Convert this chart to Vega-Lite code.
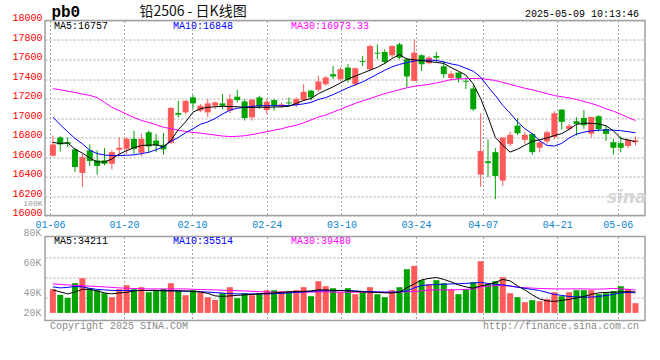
{
  "$schema": "https://vega.github.io/schema/vega-lite/v6.json",
  "background": "white",
  "padding": {"left": 11, "top": 2.5, "right": 8, "bottom": 20},
  "bounds": "flush",
  "spacing": 21,
  "config": {
    "view": {"stroke": "#a0a0a0", "strokeWidth": 1.5},
    "axis": {"labelFont": "Liberation Mono", "labelFontSize": 10, "ticks": false, "domain": false, "labelOverlap": false, "tickCount": 100}
  },
  "datasets": {
    "k": [
      {"d":"01-06","i":0,"o":16613,"h":16820,"l":16606,"c":16729,"v":43700,"m5":16750,"m10":17010,"m30":17300,"vm5":43000,"vm10":46000,"vm30":49000},
      {"d":"01-07","i":1,"o":16800,"h":16814,"l":16657,"c":16729,"v":38000,"m5":16738,"m10":16930,"m30":17290,"vm5":41000,"vm10":45000,"vm30":48500},
      {"d":"01-08","i":2,"o":16752,"h":16803,"l":16701,"c":16735,"v":35000,"m5":16745,"m10":16860,"m30":17275,"vm5":39000,"vm10":45500,"vm30":48000},
      {"d":"01-09","i":3,"o":16678,"h":16691,"l":16446,"c":16497,"v":49700,"m5":16680,"m10":16790,"m30":17262,"vm5":41000,"vm10":46500,"vm30":47500},
      {"d":"01-10","i":4,"o":16436,"h":16633,"l":16293,"c":16599,"v":54700,"m5":16640,"m10":16735,"m30":17245,"vm5":43500,"vm10":46000,"vm30":47200},
      {"d":"01-13","i":5,"o":16668,"h":16729,"l":16508,"c":16559,"v":44700,"m5":16590,"m10":16670,"m30":17232,"vm5":43500,"vm10":44500,"vm30":46800},
      {"d":"01-14","i":6,"o":16566,"h":16668,"l":16419,"c":16508,"v":42700,"m5":16550,"m10":16635,"m30":17210,"vm5":42000,"vm10":43500,"vm30":46400},
      {"d":"01-15","i":7,"o":16566,"h":16691,"l":16514,"c":16531,"v":39700,"m5":16548,"m10":16620,"m30":17160,"vm5":40000,"vm10":43000,"vm30":46000},
      {"d":"01-16","i":8,"o":16531,"h":16668,"l":16474,"c":16650,"v":35700,"m5":16580,"m10":16615,"m30":17110,"vm5":39000,"vm10":42500,"vm30":45500},
      {"d":"01-17","i":9,"o":16674,"h":16803,"l":16623,"c":16695,"v":43700,"m5":16630,"m10":16615,"m30":17075,"vm5":40000,"vm10":42400,"vm30":45000},
      {"d":"01-20","i":10,"o":16684,"h":16803,"l":16633,"c":16786,"v":47700,"m5":16665,"m10":16618,"m30":17040,"vm5":40500,"vm10":42400,"vm30":44700},
      {"d":"01-21","i":11,"o":16786,"h":16871,"l":16633,"c":16684,"v":43700,"m5":16695,"m10":16622,"m30":17005,"vm5":42000,"vm10":42400,"vm30":44400},
      {"d":"01-22","i":12,"o":16644,"h":16837,"l":16606,"c":16786,"v":45700,"m5":16718,"m10":16635,"m30":16975,"vm5":42500,"vm10":42400,"vm30":44200},
      {"d":"01-23","i":13,"o":16854,"h":16871,"l":16644,"c":16708,"v":40700,"m5":16722,"m10":16648,"m30":16955,"vm5":42500,"vm10":42400,"vm30":44000},
      {"d":"01-24","i":14,"o":16769,"h":16837,"l":16650,"c":16718,"v":42700,"m5":16725,"m10":16675,"m30":16930,"vm5":42500,"vm10":42400,"vm30":44000},
      {"d":"01-27","i":15,"o":16725,"h":16848,"l":16623,"c":16678,"v":44000,"m5":16705,"m10":16705,"m30":16905,"vm5":42000,"vm10":42400,"vm30":44000},
      {"d":"02-05","i":16,"o":16746,"h":17110,"l":16730,"c":17103,"v":49700,"m5":16770,"m10":16760,"m30":16890,"vm5":42000,"vm10":42200,"vm30":44000},
      {"d":"02-06","i":17,"o":17051,"h":17177,"l":17007,"c":17034,"v":42700,"m5":16880,"m10":16800,"m30":16875,"vm5":42000,"vm10":42000,"vm30":44000},
      {"d":"02-07","i":18,"o":17058,"h":17180,"l":17040,"c":17177,"v":37700,"m5":16960,"m10":16850,"m30":16862,"vm5":42000,"vm10":41700,"vm30":44000},
      {"d":"02-10","i":19,"o":17211,"h":17235,"l":17092,"c":17150,"v":42700,"m5":17060,"m10":16890,"m30":16852,"vm5":41500,"vm10":41400,"vm30":43600},
      {"d":"02-11","i":20,"o":17075,"h":17143,"l":17060,"c":17126,"v":40700,"m5":17095,"m10":16935,"m30":16845,"vm5":41000,"vm10":41200,"vm30":43400},
      {"d":"02-12","i":21,"o":17058,"h":17194,"l":17007,"c":17150,"v":35700,"m5":17110,"m10":16960,"m30":16835,"vm5":39500,"vm10":40800,"vm30":43200},
      {"d":"02-13","i":22,"o":17126,"h":17170,"l":17090,"c":17160,"v":33000,"m5":17115,"m10":16995,"m30":16825,"vm5":37000,"vm10":40300,"vm30":43000},
      {"d":"02-14","i":23,"o":17150,"h":17245,"l":17092,"c":17126,"v":39700,"m5":17120,"m10":17040,"m30":16815,"vm5":36500,"vm10":39800,"vm30":42700},
      {"d":"02-17","i":24,"o":17075,"h":17245,"l":17050,"c":17194,"v":45700,"m5":17118,"m10":17080,"m30":16810,"vm5":37000,"vm10":39300,"vm30":42400},
      {"d":"02-18","i":25,"o":17218,"h":17290,"l":17160,"c":17184,"v":34700,"m5":17115,"m10":17100,"m30":16812,"vm5":37500,"vm10":39000,"vm30":42200},
      {"d":"02-19","i":26,"o":17170,"h":17194,"l":16973,"c":17000,"v":39700,"m5":17110,"m10":17110,"m30":16818,"vm5":38000,"vm10":39000,"vm30":42000},
      {"d":"02-20","i":27,"o":17007,"h":17194,"l":16973,"c":17188,"v":37700,"m5":17108,"m10":17120,"m30":16830,"vm5":38500,"vm10":39000,"vm30":41600},
      {"d":"02-21","i":28,"o":17211,"h":17228,"l":17092,"c":17116,"v":39700,"m5":17110,"m10":17126,"m30":16845,"vm5":39000,"vm10":39000,"vm30":41200},
      {"d":"02-24","i":29,"o":17082,"h":17194,"l":17041,"c":17167,"v":42700,"m5":17110,"m10":17126,"m30":16860,"vm5":39500,"vm10":39000,"vm30":40900},
      {"d":"02-25","i":30,"o":17184,"h":17194,"l":17075,"c":17126,"v":42700,"m5":17112,"m10":17126,"m30":16875,"vm5":40000,"vm10":39200,"vm30":40700},
      {"d":"02-26","i":31,"o":17120,"h":17160,"l":17100,"c":17140,"v":41700,"m5":17115,"m10":17126,"m30":16890,"vm5":40500,"vm10":39500,"vm30":40700},
      {"d":"02-27","i":32,"o":17160,"h":17211,"l":17126,"c":17150,"v":41700,"m5":17120,"m10":17128,"m30":16910,"vm5":41000,"vm10":40000,"vm30":40700},
      {"d":"02-28","i":33,"o":17133,"h":17211,"l":17110,"c":17194,"v":42700,"m5":17150,"m10":17135,"m30":16925,"vm5":41500,"vm10":40500,"vm30":40700},
      {"d":"03-03","i":34,"o":17184,"h":17347,"l":17170,"c":17269,"v":45700,"m5":17180,"m10":17145,"m30":16950,"vm5":41500,"vm10":41000,"vm30":40700},
      {"d":"03-04","i":35,"o":17280,"h":17290,"l":17180,"c":17211,"v":36700,"m5":17200,"m10":17160,"m30":16980,"vm5":42000,"vm10":41500,"vm30":40800},
      {"d":"03-05","i":36,"o":17290,"h":17432,"l":17270,"c":17375,"v":51700,"m5":17250,"m10":17190,"m30":17010,"vm5":43000,"vm10":42000,"vm30":41000},
      {"d":"03-06","i":37,"o":17347,"h":17432,"l":17330,"c":17415,"v":46700,"m5":17285,"m10":17210,"m30":17030,"vm5":43000,"vm10":42200,"vm30":41000},
      {"d":"03-07","i":38,"o":17449,"h":17534,"l":17398,"c":17426,"v":44700,"m5":17320,"m10":17240,"m30":17060,"vm5":42500,"vm10":42200,"vm30":40800},
      {"d":"03-10","i":39,"o":17398,"h":17517,"l":17381,"c":17500,"v":40700,"m5":17360,"m10":17275,"m30":17090,"vm5":42400,"vm10":42300,"vm30":40700},
      {"d":"03-11","i":40,"o":17517,"h":17551,"l":17364,"c":17392,"v":44700,"m5":17400,"m10":17310,"m30":17120,"vm5":42000,"vm10":42400,"vm30":40700},
      {"d":"03-12","i":41,"o":17347,"h":17517,"l":17330,"c":17511,"v":38700,"m5":17430,"m10":17340,"m30":17150,"vm5":41500,"vm10":42000,"vm30":40700},
      {"d":"03-13","i":42,"o":17585,"h":17636,"l":17534,"c":17575,"v":40700,"m5":17460,"m10":17370,"m30":17175,"vm5":41000,"vm10":41500,"vm30":40700},
      {"d":"03-14","i":43,"o":17500,"h":17755,"l":17490,"c":17738,"v":45700,"m5":17490,"m10":17410,"m30":17200,"vm5":40700,"vm10":41300,"vm30":40700},
      {"d":"03-17","i":44,"o":17670,"h":17755,"l":17602,"c":17660,"v":38700,"m5":17520,"m10":17450,"m30":17225,"vm5":40500,"vm10":41000,"vm30":40700},
      {"d":"03-18","i":45,"o":17677,"h":17704,"l":17551,"c":17575,"v":35700,"m5":17560,"m10":17490,"m30":17250,"vm5":40000,"vm10":40800,"vm30":40700},
      {"d":"03-19","i":46,"o":17643,"h":17745,"l":17619,"c":17738,"v":42700,"m5":17610,"m10":17525,"m30":17270,"vm5":40000,"vm10":40700,"vm30":40700},
      {"d":"03-20","i":47,"o":17755,"h":17772,"l":17602,"c":17619,"v":45700,"m5":17650,"m10":17550,"m30":17290,"vm5":40700,"vm10":41000,"vm30":40800},
      {"d":"03-21","i":48,"o":17602,"h":17619,"l":17313,"c":17426,"v":63700,"m5":17605,"m10":17568,"m30":17310,"vm5":45000,"vm10":42000,"vm30":41200},
      {"d":"03-24","i":49,"o":17381,"h":17806,"l":17375,"c":17670,"v":67000,"m5":17597,"m10":17585,"m30":17325,"vm5":49000,"vm10":45000,"vm30":41400},
      {"d":"03-25","i":50,"o":17643,"h":17653,"l":17483,"c":17551,"v":52700,"m5":17590,"m10":17590,"m30":17335,"vm5":53000,"vm10":47400,"vm30":42000},
      {"d":"03-26","i":51,"o":17562,"h":17636,"l":17551,"c":17619,"v":48700,"m5":17580,"m10":17595,"m30":17345,"vm5":54500,"vm10":48000,"vm30":43000},
      {"d":"03-27","i":52,"o":17636,"h":17677,"l":17575,"c":17619,"v":52700,"m5":17570,"m10":17590,"m30":17360,"vm5":55400,"vm10":48400,"vm30":43000},
      {"d":"03-28","i":53,"o":17530,"h":17585,"l":17410,"c":17450,"v":49700,"m5":17560,"m10":17575,"m30":17375,"vm5":53500,"vm10":48600,"vm30":43000},
      {"d":"03-31","i":54,"o":17410,"h":17483,"l":17381,"c":17455,"v":43700,"m5":17517,"m10":17555,"m30":17395,"vm5":51000,"vm10":49000,"vm30":43000},
      {"d":"04-01","i":55,"o":17466,"h":17466,"l":17364,"c":17405,"v":38700,"m5":17480,"m10":17540,"m30":17400,"vm5":48000,"vm10":49200,"vm30":43200},
      {"d":"04-02","i":56,"o":17381,"h":17415,"l":17296,"c":17372,"v":43700,"m5":17440,"m10":17510,"m30":17403,"vm5":46000,"vm10":49500,"vm30":43500},
      {"d":"04-03","i":57,"o":17303,"h":17340,"l":17070,"c":17090,"v":50700,"m5":17350,"m10":17480,"m30":17405,"vm5":44700,"vm10":50000,"vm30":44000},
      {"d":"04-07","i":58,"o":16419,"h":17048,"l":16293,"c":16661,"v":71700,"m5":17200,"m10":17420,"m30":17405,"vm5":47000,"vm10":50400,"vm30":46000},
      {"d":"04-08","i":59,"o":16555,"h":16780,"l":16395,"c":16538,"v":48700,"m5":17010,"m10":17320,"m30":17395,"vm5":48500,"vm10":49500,"vm30":46800},
      {"d":"04-09","i":60,"o":16650,"h":16691,"l":16168,"c":16406,"v":51700,"m5":16800,"m10":17230,"m30":17385,"vm5":50500,"vm10":48500,"vm30":47200},
      {"d":"04-10","i":61,"o":16358,"h":16800,"l":16304,"c":16800,"v":55700,"m5":16720,"m10":17130,"m30":17365,"vm5":53500,"vm10":48000,"vm30":47400},
      {"d":"04-11","i":62,"o":16735,"h":16861,"l":16712,"c":16827,"v":39700,"m5":16650,"m10":17050,"m30":17345,"vm5":52000,"vm10":47000,"vm30":46800},
      {"d":"04-14","i":63,"o":16922,"h":16997,"l":16827,"c":16844,"v":35700,"m5":16680,"m10":16960,"m30":17325,"vm5":47000,"vm10":45700,"vm30":45700},
      {"d":"04-15","i":64,"o":16776,"h":16861,"l":16735,"c":16827,"v":30700,"m5":16720,"m10":16890,"m30":17305,"vm5":43000,"vm10":44500,"vm30":45200},
      {"d":"04-16","i":65,"o":16837,"h":16845,"l":16623,"c":16650,"v":32700,"m5":16760,"m10":16840,"m30":17290,"vm5":38000,"vm10":43500,"vm30":44800},
      {"d":"04-17","i":66,"o":16695,"h":16775,"l":16648,"c":16750,"v":31700,"m5":16776,"m10":16765,"m30":17270,"vm5":34000,"vm10":42400,"vm30":44400},
      {"d":"04-18","i":67,"o":16760,"h":16871,"l":16735,"c":16854,"v":33700,"m5":16795,"m10":16720,"m30":17250,"vm5":32000,"vm10":40500,"vm30":44200},
      {"d":"04-21","i":68,"o":16806,"h":17070,"l":16780,"c":17048,"v":40700,"m5":16820,"m10":16712,"m30":17230,"vm5":31500,"vm10":38500,"vm30":44000},
      {"d":"04-22","i":69,"o":17086,"h":17090,"l":16882,"c":16960,"v":36700,"m5":16840,"m10":16740,"m30":17218,"vm5":32500,"vm10":37500,"vm30":44000},
      {"d":"04-23","i":70,"o":16888,"h":16939,"l":16871,"c":16920,"v":40700,"m5":16885,"m10":16795,"m30":17205,"vm5":33500,"vm10":36400,"vm30":44000},
      {"d":"04-24","i":71,"o":16967,"h":17007,"l":16820,"c":16939,"v":42700,"m5":16935,"m10":16835,"m30":17190,"vm5":35000,"vm10":36000,"vm30":44000},
      {"d":"04-25","i":72,"o":17000,"h":17080,"l":16890,"c":16925,"v":42700,"m5":16946,"m10":16855,"m30":17170,"vm5":36500,"vm10":35700,"vm30":44000},
      {"d":"04-28","i":73,"o":16840,"h":17010,"l":16800,"c":17010,"v":42700,"m5":16946,"m10":16868,"m30":17150,"vm5":38500,"vm10":35800,"vm30":43800},
      {"d":"04-29","i":74,"o":17018,"h":17030,"l":16860,"c":16885,"v":38700,"m5":16940,"m10":16875,"m30":17125,"vm5":40000,"vm10":36500,"vm30":43800},
      {"d":"04-30","i":75,"o":16888,"h":16922,"l":16765,"c":16837,"v":39700,"m5":16920,"m10":16878,"m30":17095,"vm5":40500,"vm10":37400,"vm30":44000},
      {"d":"05-06","i":76,"o":16752,"h":16786,"l":16625,"c":16695,"v":41700,"m5":16870,"m10":16875,"m30":17070,"vm5":40700,"vm10":38500,"vm30":44500},
      {"d":"05-07","i":77,"o":16742,"h":16812,"l":16647,"c":16695,"v":46700,"m5":16790,"m10":16870,"m30":17040,"vm5":41000,"vm10":40000,"vm30":44000},
      {"d":"05-08","i":78,"o":16714,"h":16786,"l":16693,"c":16776,"v":44000,"m5":16775,"m10":16860,"m30":17005,"vm5":41200,"vm10":40500,"vm30":43500},
      {"d":"05-09","i":79,"o":16752,"h":16810,"l":16718,"c":16770,"v":29700,"m5":16757,"m10":16848,"m30":16973,"vm5":41000,"vm10":40000,"vm30":43000}
    ]
  },
  "vconcat": [
    {
      "width": 600,
      "height": 195,
      "data": {"name": "k"},
      "layer": [
        {
          "mark": {"type": "rule", "strokeWidth": 1},
          "encoding": {
            "x": {"field": "i", "type": "quantitative", "title": null, "scale": {"domain": [-0.39, 79.61], "nice": false, "zero": false},
              "axis": {"values": [-0.39, 9.65, 18.85, 28.99, 39.12, 49.25, 58.3, 68.4, 76.6], "tickCount": 100, "labelExpr": "datum.value < 0 ? '01-06' : datum.value < 10 ? '01-20' : datum.value < 19 ? '02-10' : datum.value < 29 ? '02-24' : datum.value < 40 ? '03-10' : datum.value < 50 ? '03-24' : datum.value < 60 ? '04-07' : datum.value < 70 ? '04-21' : '05-06'", "labelColor": "#0a84d0", "labelFlush": false, "labelOverlap": false, "labelPadding": 4, "grid": true, "gridColor": "#a8a8a8", "gridDash": [2, 2], "gridWidth": 1}},
            "y": {"field": "l", "type": "quantitative", "title": null, "scale": {"domain": [16000, 18000], "nice": false, "zero": false},
              "axis": {"values": [16000, 16097, 16200, 16400, 16600, 16800, 17000, 17200, 17400, 17600, 17800, 18000], "tickCount": 100, "format": "d", "labelExpr": "datum.value == 16097 ? '100K' : datum.label", "labelColor": {"condition": {"test": "datum.value == 16097", "value": "#9a9a9a"}, "value": "#ff0000"}, "labelFontSize": {"condition": {"test": "datum.value == 16097", "value": 8}, "value": 10}, "labelOverlap": false, "labelPadding": 3, "labelOffset": -3, "grid": true, "gridColor": {"condition": {"test": "datum.value == 16097", "value": "#ffffff"}, "value": "#a8a8a8"}, "gridDash": [2, 2], "gridWidth": 1}},
            "y2": {"field": "h"},
            "color": {"condition": {"test": "datum.c >= datum.o", "value": "#ff5a5a"}, "value": "#00a400"}
          }
        },
        {
          "mark": {"type": "bar", "size": 6},
          "encoding": {
            "x": {"field": "i", "type": "quantitative"},
            "y": {"field": "o", "type": "quantitative"},
            "y2": {"field": "c"},
            "color": {"condition": {"test": "datum.c >= datum.o", "value": "#ff5a5a"}, "value": "#00a400"}
          }
        },
        {"mark": {"type": "line", "color": "#ff00ff", "strokeWidth": 1}, "encoding": {"x": {"field": "i", "type": "quantitative"}, "y": {"field": "m30", "type": "quantitative"}}},
        {"mark": {"type": "line", "color": "#0000ff", "strokeWidth": 1}, "encoding": {"x": {"field": "i", "type": "quantitative"}, "y": {"field": "m10", "type": "quantitative"}}},
        {"mark": {"type": "line", "color": "#000000", "strokeWidth": 1}, "encoding": {"x": {"field": "i", "type": "quantitative"}, "y": {"field": "m5", "type": "quantitative"}}},
        {"data": {"values": [{"t": "MA5:16757"}]}, "mark": {"type": "text", "align": "left", "baseline": "middle", "color": "#000000", "font": "Liberation Mono", "fontSize": 10},
          "encoding": {"text": {"field": "t"}, "x": {"datum": 0.15}, "y": {"datum": 17947}}},
        {"data": {"values": [{"t": "MA10:16848"}]}, "mark": {"type": "text", "align": "left", "baseline": "middle", "color": "#0000ff", "font": "Liberation Mono", "fontSize": 10},
          "encoding": {"text": {"field": "t"}, "x": {"datum": 16.28}, "y": {"datum": 17947}}},
        {"data": {"values": [{"t": "MA30:16973.33"}]}, "mark": {"type": "text", "align": "left", "baseline": "middle", "color": "#ff00ff", "font": "Liberation Mono", "fontSize": 10},
          "encoding": {"text": {"field": "t"}, "x": {"datum": 32.28}, "y": {"datum": 17947}}},
        {"data": {"values": [{"t": "pb0"}]}, "mark": {"type": "text", "align": "center", "baseline": "middle", "color": "#000000", "font": "Liberation Mono", "fontSize": 16, "fontWeight": "bold"},
          "encoding": {"text": {"field": "t"}, "x": {"datum": 1.75}, "y": {"datum": 18085}}},
        {"data": {"values": [{"t": "铅2506 - 日K线图"}]}, "mark": {"type": "text", "align": "center", "baseline": "middle", "color": "#111111", "font": "Noto Sans CJK SC", "fontSize": 14},
          "encoding": {"text": {"field": "t"}, "x": {"datum": 19.0}, "y": {"datum": 18085}}},
        {"data": {"values": [{"t": "2025-05-09 10:13:46"}]}, "mark": {"type": "text", "align": "right", "baseline": "middle", "color": "#000000", "font": "Liberation Mono", "fontSize": 10},
          "encoding": {"text": {"field": "t"}, "x": {"datum": 79.48}, "y": {"datum": 18067}}},
        {"data": {"values": [{"t": "sina"}]}, "mark": {"type": "text", "align": "center", "baseline": "middle", "color": "#d6d6d6", "font": "DejaVu Sans", "fontSize": 17, "fontWeight": "bold", "fontStyle": "italic"},
          "encoding": {"text": {"field": "t"}, "x": {"datum": 77.8}, "y": {"datum": 16177}}}
      ]
    },
    {
      "width": 600,
      "height": 84,
      "data": {"name": "k"},
      "layer": [
        {
          "mark": {"type": "bar", "size": 6},
          "encoding": {
            "x": {"field": "i", "type": "quantitative", "title": null, "scale": {"domain": [-0.39, 79.61], "nice": false, "zero": false},
              "axis": {"values": [9.65, 18.85, 28.99, 39.12, 49.25, 58.3, 68.4, 76.6], "tickCount": 100, "labels": false, "grid": true, "gridColor": "#a8a8a8", "gridDash": [2, 2], "gridWidth": 1}},
            "y": {"field": "v", "type": "quantitative", "title": null, "scale": {"domain": [12400, 96400], "nice": false, "zero": false},
              "axis": {"values": [15000, 35000, 35400, 55400, 65700, 75400, 95000], "tickCount": 100, "labelExpr": "datum.value == 15000 ? '20K' : datum.value == 35000 ? '40K' : datum.value == 65700 ? '60K' : datum.value == 95000 ? '80K' : ''", "labelColor": "#9a9a9a", "labelBaseline": "bottom", "labelOverlap": false, "labelPadding": 4, "grid": true, "gridColor": {"condition": {"test": "datum.value == 35400 || datum.value == 55400 || datum.value == 75400", "value": "#a8a8a8"}, "value": "#ffffff"}, "gridOpacity": {"condition": {"test": "datum.value == 35400 || datum.value == 55400 || datum.value == 75400", "value": 1}, "value": 0}, "gridDash": [2, 2], "gridWidth": 1}},
            "y2": {"datum": 20000},
            "color": {"condition": {"test": "datum.c >= datum.o", "value": "#ff5a5a"}, "value": "#00a400"}
          }
        },
        {"mark": {"type": "line", "color": "#ff00ff", "strokeWidth": 1}, "encoding": {"x": {"field": "i", "type": "quantitative"}, "y": {"field": "vm30", "type": "quantitative"}}},
        {"mark": {"type": "line", "color": "#0000ff", "strokeWidth": 1}, "encoding": {"x": {"field": "i", "type": "quantitative"}, "y": {"field": "vm10", "type": "quantitative"}}},
        {"mark": {"type": "line", "color": "#000000", "strokeWidth": 1}, "encoding": {"x": {"field": "i", "type": "quantitative"}, "y": {"field": "vm5", "type": "quantitative"}}},
        {"data": {"values": [{"t": "MA5:34211"}]}, "mark": {"type": "text", "align": "left", "baseline": "middle", "color": "#000000", "font": "Liberation Mono", "fontSize": 10},
          "encoding": {"text": {"field": "t"}, "x": {"datum": 0.15}, "y": {"datum": 92200}}},
        {"data": {"values": [{"t": "MA10:35514"}]}, "mark": {"type": "text", "align": "left", "baseline": "middle", "color": "#0000ff", "font": "Liberation Mono", "fontSize": 10},
          "encoding": {"text": {"field": "t"}, "x": {"datum": 16.28}, "y": {"datum": 92200}}},
        {"data": {"values": [{"t": "MA30:39480"}]}, "mark": {"type": "text", "align": "left", "baseline": "middle", "color": "#ff00ff", "font": "Liberation Mono", "fontSize": 10},
          "encoding": {"text": {"field": "t"}, "x": {"datum": 32.28}, "y": {"datum": 92200}}},
        {"data": {"values": [{"t": "Copyright 2025 SINA.COM"}]}, "mark": {"type": "text", "align": "left", "baseline": "middle", "color": "#888888", "font": "Liberation Mono", "fontSize": 10},
          "encoding": {"text": {"field": "t"}, "x": {"datum": -0.39}, "y": {"datum": 7200}}},
        {"data": {"values": [{"t": "http://finance.sina.com.cn"}]}, "mark": {"type": "text", "align": "right", "baseline": "middle", "color": "#888888", "font": "Liberation Mono", "fontSize": 10},
          "encoding": {"text": {"field": "t"}, "x": {"datum": 79.48}, "y": {"datum": 6700}}}
      ]
    }
  ]
}
